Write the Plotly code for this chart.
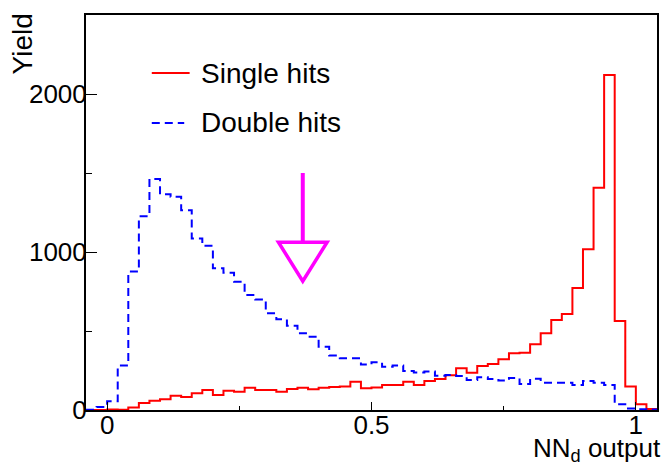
import numpy as np
import plotly.graph_objects as go

# histogram binning: 54 bins of 0.02 from -0.04 to 1.04
x_lo, x_hi, bin_w = -0.04, 1.04, 0.02

single_hits = [0, 0, 3, 2, 16, 44, 58, 68, 90, 82, 106, 127, 95, 122, 116, 141, 127, 127,
               116, 133, 141, 131, 141, 146, 148, 179, 137, 143, 158, 158, 179, 158, 183, 196,
               220, 264, 236, 278, 291, 321, 359, 362, 416, 485, 570, 608, 772, 1017, 1407, 2120,
               563, 148, 36, 6]
double_hits = [2, 19, 55, 281, 876, 1226, 1462, 1365, 1350, 1264, 1086, 1039, 897, 869, 812, 728,
               700, 612, 574, 534, 485, 464, 401, 345, 327, 327, 288, 302, 274, 281, 247, 238,
               243, 217, 221, 215, 190, 207, 196, 186, 203, 165, 198, 173, 173, 173, 158, 184,
               173, 158, 36, 10, 5, 3]

arrow_x = 0.37
arrow_top, arrow_base, arrow_tip = 1500, 1062, 815
arrow_halfw = 0.046

edges = x_lo + bin_w * np.arange(len(single_hits) + 1)


def step(vals):
    return list(vals) + [vals[-1]]


fig = go.Figure()
fig.add_trace(go.Scatter(x=edges, y=step(single_hits), mode="lines", line_shape="hv",
                         line=dict(color="#ff0000", width=2), showlegend=False))
fig.add_trace(go.Scatter(x=edges, y=step(double_hits), mode="lines", line_shape="hv",
                         line=dict(color="#0000ff", width=2, dash="8px,5px"), showlegend=False))

# magenta arrow
fig.add_shape(type="line", xref="x", yref="y", x0=arrow_x, x1=arrow_x, y0=arrow_top, y1=arrow_base,
              line=dict(color="#ff00ff", width=4))
fig.add_shape(type="path", xref="x", yref="y",
              path=f"M {arrow_x - arrow_halfw},{arrow_base} L {arrow_x + arrow_halfw},{arrow_base} "
                   f"L {arrow_x},{arrow_tip} Z",
              line=dict(color="#ff00ff", width=3.5), fillcolor="rgba(0,0,0,0)")

# hand-drawn legend
fig.add_shape(type="line", xref="paper", yref="paper", x0=0.1152, x1=0.1815, y0=0.853, y1=0.853,
              line=dict(color="#ff0000", width=2))
fig.add_shape(type="line", xref="paper", yref="paper", x0=0.1152, x1=0.172, y0=0.7266, y1=0.7266,
              line=dict(color="#0000ff", width=2, dash="8px,5px"))
fig.add_annotation(text="Single hits", xref="paper", yref="paper", x=0.1972, y=0.853,
                   xanchor="left", yanchor="middle", showarrow=False,
                   font=dict(size=28, color="black"))
fig.add_annotation(text="Double hits", xref="paper", yref="paper", x=0.1972, y=0.7266,
                   xanchor="left", yanchor="middle", showarrow=False,
                   font=dict(size=28, color="black"))

# axis titles, ROOT style (top / right aligned)
fig.add_annotation(text="Yield", xref="paper", yref="paper", x=-0.112, y=1.008, textangle=-90,
                   xanchor="center", yanchor="top", showarrow=False, font=dict(size=28, color="black"))
fig.add_annotation(text="NN<sub>d</sub> output", xref="paper", yref="paper", x=1.01, y=-0.101,
                   xanchor="right", yanchor="middle", showarrow=False, font=dict(size=26, color="black"))

fig.update_layout(
    width=664, height=465,
    margin=dict(l=86, r=5, t=15, b=55),
    plot_bgcolor="white", paper_bgcolor="white",
    font=dict(family="Liberation Sans, Arial, sans-serif", size=26, color="black"),
)
fig.update_xaxes(range=[x_lo, x_hi], tick0=0, dtick=0.5, ticks="inside", ticklen=8, tickwidth=1,
                 tickcolor="black", ticklabelstandoff=-9,
                 minor=dict(ticks="inside", dtick=0.25, tick0=0, ticklen=4, tickcolor="black"),
                 showline=True, linewidth=2, linecolor="black", mirror=True,
                 showgrid=False, zeroline=False)
fig.update_yaxes(range=[0, 2500], tick0=0, dtick=1000, ticks="inside", ticklen=11, tickwidth=1,
                 tickcolor="black", ticklabelstandoff=-8,
                 minor=dict(ticks="inside", dtick=500, tick0=0, ticklen=6, tickcolor="black"),
                 showline=True, linewidth=2, linecolor="black", mirror=True,
                 showgrid=False, zeroline=False)

fig.write_html("out.html", config={"displayModeBar": False},
               post_script="document.body.style.margin='0';"
                           "document.body.style.overflow='hidden';")
